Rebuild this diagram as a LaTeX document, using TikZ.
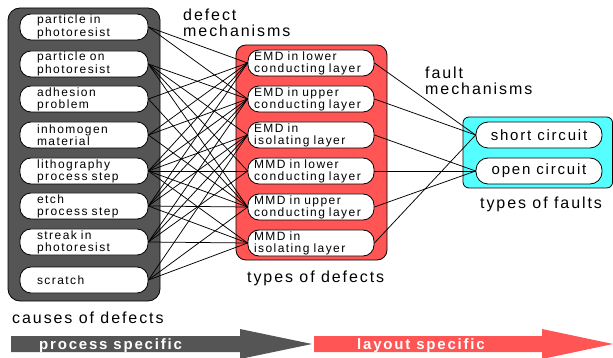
\documentclass[tikz,border=0pt]{standalone}
\usepackage{fontspec}
\setmainfont{Liberation Sans}[LetterSpace=12]
\definecolor{panelgray}{RGB}{85,85,85}
\definecolor{panelred}{RGB}{255,85,85}
\definecolor{panelcyan}{RGB}{85,255,255}
\begin{document}
\begin{tikzpicture}[x=1pt,y=-1pt,line cap=round,line join=round,
  cause/.style={draw,fill=white,line width=0.8pt,rounded corners=11pt,
    minimum width=128pt,minimum height=26pt,text width=94pt,inner xsep=17pt,
    inner ysep=1pt,align=left,font=\fontsize{12}{12.2}\selectfont},
  defect/.style={cause,minimum width=126pt,text width=114pt,inner xsep=6pt},
  fault/.style={draw,fill=white,line width=0.8pt,rounded corners=12pt,
    minimum width=126pt,minimum height=26pt,font=\fontsize{15}{16}\selectfont},
  caption/.style={inner sep=0pt,align=left,font=\fontsize{16}{16}\selectfont},
  link/.style={line width=0.75pt}]
  \useasboundingbox (0,0) rectangle (613,358);
  % panels
  \draw[fill=panelgray,line width=0.8pt,rounded corners=12pt] (8,8) rectangle (160,301);
  \draw[fill=panelred,line width=0.8pt,rounded corners=10pt] (236,45) rectangle (387,260);
  \draw[fill=panelcyan,line width=0.8pt,rounded corners=6pt] (463,117) rectangle (612.6,188);
  % causes of defects
  \node[cause] (c1) at (84,27) {particle in\\photoresist};
  \node[cause] (c2) at (84,64) {particle on\\photoresist};
  \node[cause] (c3) at (84,99) {adhesion\\problem};
  \node[cause] (c4) at (84,135) {inhomogen\\material};
  \node[cause] (c5) at (84,171) {lithography\\process step};
  \node[cause] (c6) at (84,206) {etch\\process step};
  \node[cause] (c7) at (84,242) {streak in\\photoresist};
  \node[cause] (c8) at (84,280) {scratch};
  % types of defects
  \node[defect] (d1) at (311,63) {EMD in lower\\conducting layer};
  \node[defect] (d2) at (311,99) {EMD in upper\\conducting layer};
  \node[defect] (d3) at (311,135) {EMD in\\isolating layer};
  \node[defect] (d4) at (311,171) {MMD in lower\\conducting layer};
  \node[defect] (d5) at (311,207) {MMD in upper\\conducting layer};
  \node[defect] (d6) at (311,243) {MMD in\\isolating layer};
  % types of faults
  \node[fault] (f1) at (539,135) {short circuit};
  \node[fault] (f2) at (539,171) {open circuit};
  % defect mechanisms
  \foreach \a/\b in {c1/d1,c1/d2,c2/d2,c2/d3,c2/d4,c2/d5,c3/d1,c3/d5,
      c4/d1,c4/d2,c4/d5,c5/d1,c5/d2,c5/d3,c5/d4,c5/d5,c5/d6,
      c6/d1,c6/d2,c6/d3,c6/d5,c6/d6,c7/d2,c7/d3,c7/d4,c7/d6,
      c8/d3,c8/d5,c8/d6}
    \draw[link] (\a.east) -- (\b.west);
  % fault mechanisms
  \foreach \a/\b in {d1/f1,d2/f1,d3/f2,d4/f2,d5/f2,d6/f1}
    \draw[link] (\a.east) -- (\b.west);
  % captions
  \node[caption,anchor=north west] (defmech) at (183,9) {defect\\mechanisms};
  \node[caption,anchor=north west] (faultmech) at (425,67) {fault\\mechanisms};
  \node[caption,anchor=base west] (deftypes) at (247,282) {types of defects};
  \node[caption,anchor=base west] (faulttypes) at (480,209) {types of faults};
  \node[caption,anchor=base west] (causes) at (12,323) {causes of defects};
  % process / layout arrows
  \fill[panelgray] (11,336) -- (240,336) -- (240,329) -- (312,344)
    -- (240,359) -- (240,352) -- (11,352) -- cycle;
  \fill[panelred] (314,336) -- (542,336) -- (542,329) -- (613,344)
    -- (542,359) -- (542,352) -- (314,352) -- cycle;
  \node[anchor=base west,inner sep=0pt,text=white,
    font=\bfseries\fontsize{15}{15}\selectfont] (procspec) at (39,349) {process specific};
  \node[anchor=base west,inner sep=0pt,text=white,
    font=\bfseries\fontsize{15}{15}\selectfont] (layspec) at (357,349) {layout specific};
\end{tikzpicture}
\end{document}
